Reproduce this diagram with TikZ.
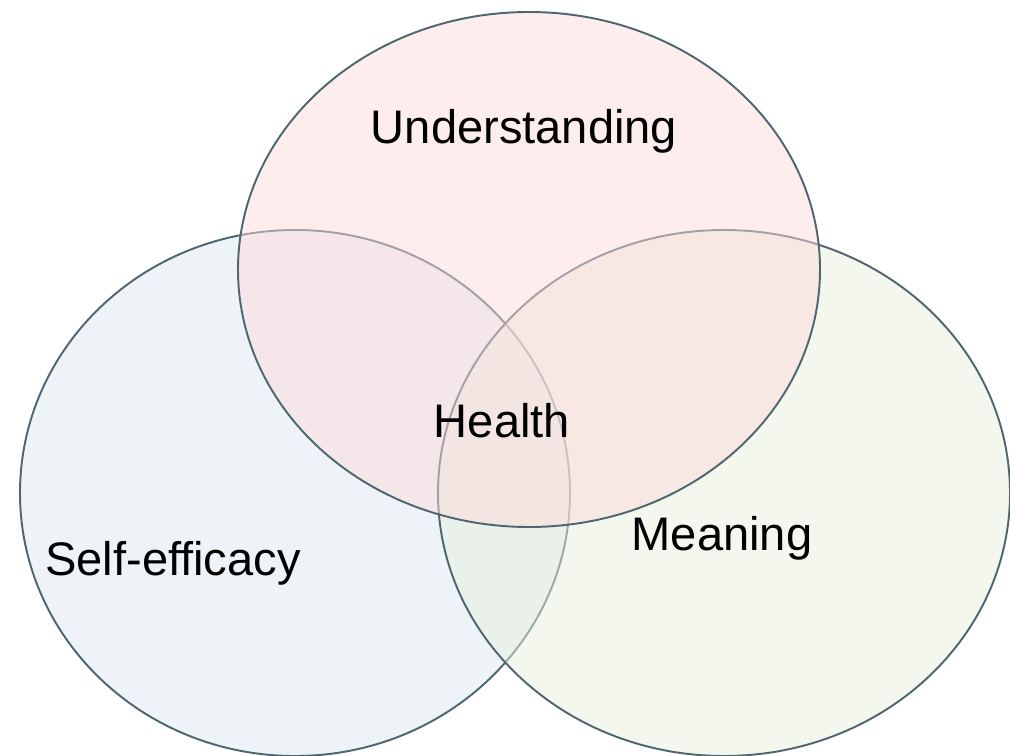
\documentclass[tikz,border=0pt]{standalone}
\usepackage{fontspec}
\setmainfont{Liberation Sans}
\usepackage{tikz}
\usetikzlibrary{positioning}

\definecolor{ring}{HTML}{4E6670}
\definecolor{understandfill}{HTML}{FBDBDB}
\definecolor{selffill}{HTML}{EEF3F8}
\definecolor{meaningfill}{HTML}{E7EFDD}

\begin{document}
\begin{tikzpicture}[x=0.02cm,y=-0.02cm,
  set/.style={draw=ring,line width=1.1pt,fill opacity=0.5,text opacity=1},
  lbl/.style={font=\fontsize{26.8}{30}\selectfont,inner sep=0pt}]
\useasboundingbox (0,0) rectangle (1010,756);
\draw[set,fill=selffill,fill opacity=1] (295,493) ellipse [x radius=275,y radius=263];
\draw[set,fill=meaningfill] (724,493) ellipse [x radius=286,y radius=263];
\draw[set,fill=understandfill] (529,269.5) ellipse [x radius=291,y radius=257.5];
\node[lbl] (under) at (524,131) {Understanding};
\node[lbl] (health) at (502,421) {Health};
\node[lbl] (mean) at (722,538) {Meaning};
\node[lbl] (self) at (173,563) {Self-efficacy};
\end{tikzpicture}
\end{document}
